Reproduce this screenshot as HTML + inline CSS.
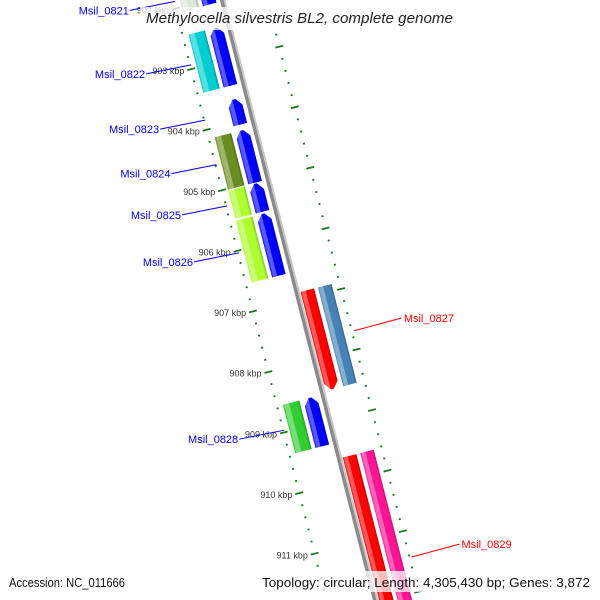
<!DOCTYPE html>
<html><head><meta charset="utf-8"><style>
html,body{margin:0;padding:0;background:#fff;overflow:hidden;}
svg{display:block;font-family:"Liberation Sans","DejaVu Sans",sans-serif;}
</style></head><body>
<svg id="map" width="600" height="600" viewBox="0 0 600 600" xmlns="http://www.w3.org/2000/svg">
<defs id="defs"></defs>
<g id="rot" transform="translate(222,0) rotate(-14.3)"></g>
<g id="labels"></g>
<rect x="140" y="7" width="318" height="23" fill="#fff" fill-opacity="0.75"/>
<text x="146" y="23" textLength="307" lengthAdjust="spacingAndGlyphs" font-size="14.5" font-style="italic" fill="#222">Methylocella silvestris BL2, complete genome</text>
<rect x="6" y="571" width="124" height="21" fill="#fff" fill-opacity="0.75"/>
<text x="9" y="587" textLength="116" lengthAdjust="spacingAndGlyphs" font-size="13" fill="#111">Accession: NC_011666</text>
<rect x="258" y="571" width="336" height="21" fill="#fff" fill-opacity="0.75"/>
<text x="262" y="587" textLength="328" lengthAdjust="spacingAndGlyphs" font-size="13" fill="#111">Topology: circular; Length: 4,305,430 bp; Genes: 3,872</text>
</svg>
<script>
const geneNames = ["Msil_0821","Msil_0822","Msil_0823","Msil_0824","Msil_0825","Msil_0826","Msil_0827","Msil_0828","Msil_0829"];
const geneStarts = [901700,902453,903637,904149,905029,905525,906885,908565,909621];
const geneEnds   = [902069,903413,904053,905013,905493,906549,908517,909365,913250];
const geneStrands = [-1,-1,-1,-1,-1,-1,1,-1,1];
const cogColors = ["#d8e8d8","#00ced1",null,"#6b8e23","#adff2f","#adff2f","#4682b4","#32cd32","#ff1493"];
const kbpTicks = [902,903,904,905,906,907,908,909,910,911,912];

const NS="http://www.w3.org/2000/svg";
const rot=document.getElementById('rot'), labels=document.getElementById('labels'), defs=document.getElementById('defs');
const ANG=14.3*Math.PI/180, COS=Math.cos(ANG), SIN=Math.sin(ANG), OX=222;
function yScale(bp){return 59.4+(bp-903000)/1000*62.5;}
function toScreen(x,y){return [OX+x*COS+y*SIN, -x*SIN+y*COS];}
function mk(tag,attrs,parent){const e=document.createElementNS(NS,tag);for(const k in attrs)e.setAttribute(k,attrs[k]);parent.appendChild(e);return e;}
function mix(hex,t,target){const n=parseInt(hex.slice(1),16);let r=n>>16,g=(n>>8)&255,b=n&255;const c=target?255:0;
 r=Math.round(r+(c-r)*t);g=Math.round(g+(c-g)*t);b=Math.round(b+(c-b)*t);return "rgb("+r+","+g+","+b+")";}
let gid=0;
function grad(color){const id="g"+(gid++);const lg=mk('linearGradient',{id:id,x1:"0",y1:"0",x2:"1",y2:"0"},defs);
 [[0,mix(color,0.0,false)],[0.12,mix(color,0.35,true)],[0.35,mix(color,0.35,true)],[0.4,color],[0.85,color],[1,mix(color,0.25,false)]]
 .forEach(s=>mk('stop',{offset:s[0],'stop-color':s[1]},lg));return "url(#"+id+")";}

const bb=mk('rect',{x:-2,y:-100,width:3.5,height:800,fill:'#8a8a8a'},rot);


const bb2=mk('rect',{x:1.5,y:-100,width:1.8,height:800,fill:'#c8c8c8'},rot);



for(let i=0;i<=60;i++){
 const kb=901.6+i*0.2; const major=Math.abs(kb-Math.round(kb))<0.01; const y=yScale(kb*1000);
 [-47,44].forEach(cx=>{
  const t=mk('rect',{x:major?cx-4:cx-1,y:y-0.9,width:major?8:2,height:1.8,fill:'#1a7a1a'},rot);
  
  
 });
}
kbpTicks.forEach(k=>{
 const p=toScreen(-54,yScale(k*1000));
 const t=mk('text',{x:p[0],y:p[1]+3,'text-anchor':'end','font-size':'9',fill:'#333'},labels);
 t.textContent=k+" kbp";
 
 
});

geneNames.forEach((nm,i)=>{
 const y0=yScale(geneStarts[i]), y1=yScale(geneEnds[i]), s=geneStrands[i];
 const xa = s<0 ? -20 : 4, xb = s<0 ? -6 : 18;
 const col = s<0 ? "#0000ff" : "#ff0000";
 const h=Math.min(7,(y1-y0)/2), xm=(xa+xb)/2;
 let d;
 if(s<0) d=`M${xa},${y1} L${xa},${y0+h} L${xm-1.5},${y0} L${xm+1.5},${y0} L${xb},${y0+h} L${xb},${y1} Z`;
 else d=`M${xa},${y0} L${xa},${y1-h} L${xm-1.5},${y1} L${xm+1.5},${y1} L${xb},${y1-h} L${xb},${y0} Z`;
 const a=mk('path',{d:d,fill:grad(col)},rot);
 
 
 if(cogColors[i]){
  const ca = s<0 ? -41 : 22, cb = s<0 ? -24 : 36;
  const r=mk('rect',{x:ca,y:y0,width:cb-ca,height:y1-y0,fill:grad(cogColors[i])},rot);
  
  
 }
 const mid=(y0+y1)/2;
 const e=toScreen(s<0?-46:46,mid);
 const st = s<0 ? [e[0]-45,e[1]+9] : [e[0]+48,e[1]-13];
 const ln=mk('line',{x1:st[0],y1:st[1],x2:e[0],y2:e[1],stroke:col,'stroke-width':1},labels);
 
 
 const tx=mk('text',{x:s<0?st[0]-1:st[0]+2,y:st[1]+4,'text-anchor':s<0?'end':'start','font-size':'11',fill:col},labels);
 tx.textContent=nm;
 
 
});
</script>
</body></html>
